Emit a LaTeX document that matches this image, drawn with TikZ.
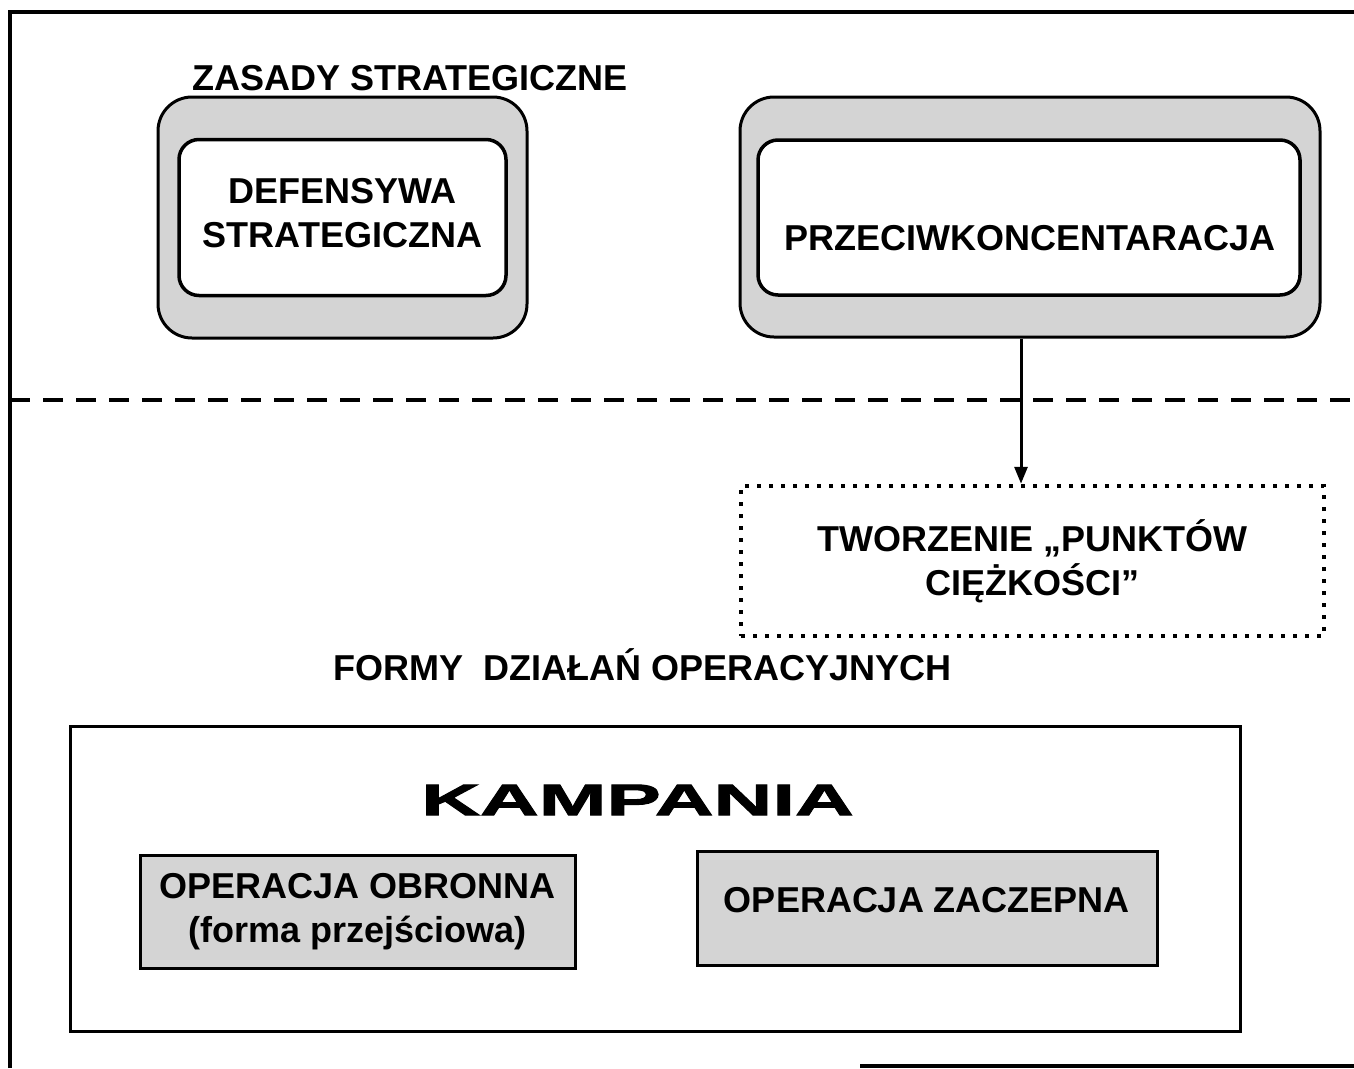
\documentclass[tikz,border=0pt]{standalone}
\usepackage{fontspec}
\setmainfont{Liberation Sans}
\newfontfamily\widefont[FakeStretch=1.85, FakeBold=2.5]{Liberation Sans}
\usetikzlibrary{arrows.meta, positioning, calc}
\definecolor{boxShade}{gray}{0.83}

\begin{document}
\begin{tikzpicture}[
    x=1pt, y=-1pt,
    every node/.style={font=\fontsize{36}{44}\selectfont\bfseries},
    lbl/.style={inner sep=0pt, align=center},
    outerbox/.style={draw, line width=3pt, rounded corners=34pt, fill=boxShade, inner sep=0pt},
    innerbox/.style={draw, line width=3.5pt, rounded corners=20pt, fill=white, inner sep=0pt, align=center},
    opbox/.style={draw, line width=3pt, fill=boxShade, inner sep=0pt, align=center},
    dotbox/.style={draw, line width=4.5pt, dash pattern=on 4pt off 8pt, inner sep=0pt, align=center},
    frame/.style={line width=3.5pt},
    arrow/.style={-{Triangle[length=17pt, width=13pt]}, line width=3pt}
  ]
  \fill[white] (0,0) rectangle (1354,1068);
  \useasboundingbox (0,0) rectangle (1354,1068);

  % Frame and separator
  \draw[frame] (10,1068) -- (10,12) -- (1354,12);
  \draw[frame] (860,1066) -- (1354,1066);
  \draw[line width=4pt, dash pattern=on 20pt off 13pt] (10,400) -- (1354,400);

  % Upper part: strategic principles
  \node[lbl] (zasady) at (410,78) {ZASADY STRATEGICZNE};
  \node[outerbox, minimum width=369pt, minimum height=241pt] (defout) at (342.5,217.5) {};
  \node[innerbox, minimum width=327pt, minimum height=156pt, text depth=10pt] (defin) at (defout) {DEFENSYWA\\STRATEGICZNA};

  \node[outerbox, minimum width=580pt, minimum height=240pt] (przout) at (1030,217) {};
  \node[innerbox, minimum width=542pt, minimum height=155pt] (przin) at (1029,217.5) {};
  \node[lbl] (przlabel) at (1030,238) {PRZECIWKONCENTARACJA};

  % Centres of gravity
  \node[dotbox, minimum width=583pt, minimum height=150pt] (tworz) at (1032.5,561) {TWORZENIE „PUNKTÓW\\CIĘŻKOŚCI”};
  \draw[arrow] ([xshift=-9pt]przout.south) -- ([xshift=-9pt]przout.south |- tworz.north);

  % Lower part: operational forms
  \node[lbl] (formy) at (642.5,665) {FORMY\ \ DZIAŁAŃ OPERACYJNYCH};
  \node[draw, line width=3pt, minimum width=1170pt, minimum height=305pt] (kamp) at (655,878.5) {};
  \node[lbl, font=\fontsize{44}{52}\selectfont\widefont\bfseries] (kamplabel) at (637.5,800) {KAMPANIA};
  \node[opbox, minimum width=435pt, minimum height=113pt] (obronna) at (357.5,911.5) {OPERACJA OBRONNA\\(forma przejściowa)};
  \node[opbox, minimum width=460pt, minimum height=114pt, text depth=16pt] (zaczepna) at (927,908) {OPERACJA ZACZEPNA};

\end{tikzpicture}
\end{document}
